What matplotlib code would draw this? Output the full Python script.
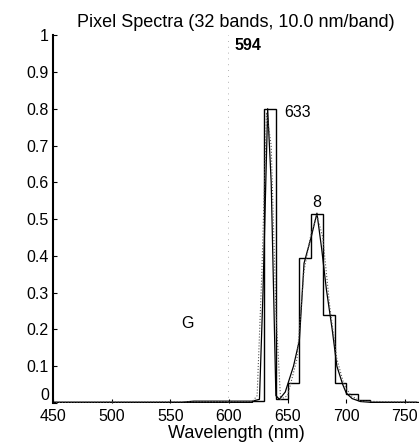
import matplotlib
matplotlib.use("Agg")
import matplotlib.pyplot as plt
import numpy as np

plt.rcParams['font.family'] = ['Liberation Sans', 'DejaVu Sans']

# 32 bands, 10 nm each
band_edges = [450, 460, 470, 480, 490, 500, 510, 520, 530, 540, 550,
              560, 570, 580, 590, 600, 610, 620, 630, 640, 650, 660,
              670, 680, 690, 700, 710, 720, 730, 740, 750, 760, 770]
band_values = [0.002, 0.002, 0.002, 0.002, 0.002, 0.003, 0.002, 0.002,
               0.002, 0.002, 0.003, 0.003, 0.004, 0.004, 0.004, 0.004,
               0.003, 0.005, 0.80, 0.012, 0.055, 0.395, 0.515, 0.24,
               0.055, 0.025, 0.008, 0.003, 0.002, 0.002, 0.002, 0.002]

# fine-resolution spectrum (solid)
fine_wl = [450, 560, 570, 620, 626, 629, 633, 636, 640, 643, 648, 655,
           660, 664, 670, 675, 679, 683, 688, 692, 697, 700, 705, 712, 720, 760]
fine_val = [0.002, 0.002, 0.005, 0.005, 0.01, 0.3, 0.8, 0.6, 0.02, 0.01,
            0.03, 0.1, 0.17, 0.38, 0.45, 0.516, 0.42, 0.31, 0.2, 0.1, 0.05,
            0.027, 0.012, 0.004, 0.002, 0.002]

# second fine spectrum (dotted)
dot_wl = [450, 620, 624, 628, 632, 636, 640, 644, 650, 658, 664, 670,
          675, 680, 686, 692, 698, 704, 712, 760]
dot_val = [0.002, 0.004, 0.02, 0.35, 0.79, 0.7, 0.25, 0.01, 0.02, 0.12,
           0.36, 0.46, 0.51, 0.45, 0.26, 0.12, 0.05, 0.02, 0.005, 0.002]

marker_wl = 599
labels = [("594", 605, 0.973, 'bold'), ("633", 647, 0.79, 'normal'),
          ("8", 674.5, 0.546, 'normal'), ("G", 565, 0.217, 'normal')]

fig = plt.figure(figsize=(4.19, 4.45), dpi=100)
ax = fig.add_axes([0.1265, 0.0944, 0.8735, 0.8266])

ax.stairs(band_values, band_edges, color='black', linewidth=1.0)
ax.plot(fine_wl, fine_val, color='black', linewidth=0.9)
ax.plot(dot_wl, dot_val, color='#555555', linewidth=0.8, linestyle=':')
ax.plot([marker_wl, marker_wl], [0, 1], color='#999999', linewidth=0.6,
        linestyle=(0, (1, 6)))

for txt, x, y, w in labels:
    ha = 'center' if txt in ("8", "G") else 'left'
    ax.text(x, y, txt, ha=ha, va='center', fontsize=11.5, fontweight=w)

ax.set_xlim(450, 762)
ax.set_ylim(0, 1)
ax.set_xticks([450, 500, 550, 600, 650, 700, 750])
ax.set_yticks([0, 0.1, 0.2, 0.3, 0.4, 0.5, 0.6, 0.7, 0.8, 0.9, 1])
ax.set_yticklabels(['0', '0.1', '0.2', '0.3', '0.4', '0.5', '0.6', '0.7',
                    '0.8', '0.9', '1'])
ax.tick_params(direction='in', length=3, width=0.8, labelsize=11.5)
ax.tick_params(axis='x', pad=4)
ax.tick_params(axis='y', pad=3)
# lift the "0" label a little so it sits just above the "450" label
ax.get_yticklabels()[0].set_verticalalignment('bottom')
for side in ['top', 'right', 'bottom']:
    ax.spines[side].set_visible(False)
ax.spines['left'].set_linewidth(1.5)

ax.set_title('Pixel Spectra (32 bands, 10.0 nm/band)', fontsize=13, pad=6)
ax.set_xlabel('Wavelength (nm)', fontsize=13, labelpad=1)

fig.savefig('out.png', dpi=100)
